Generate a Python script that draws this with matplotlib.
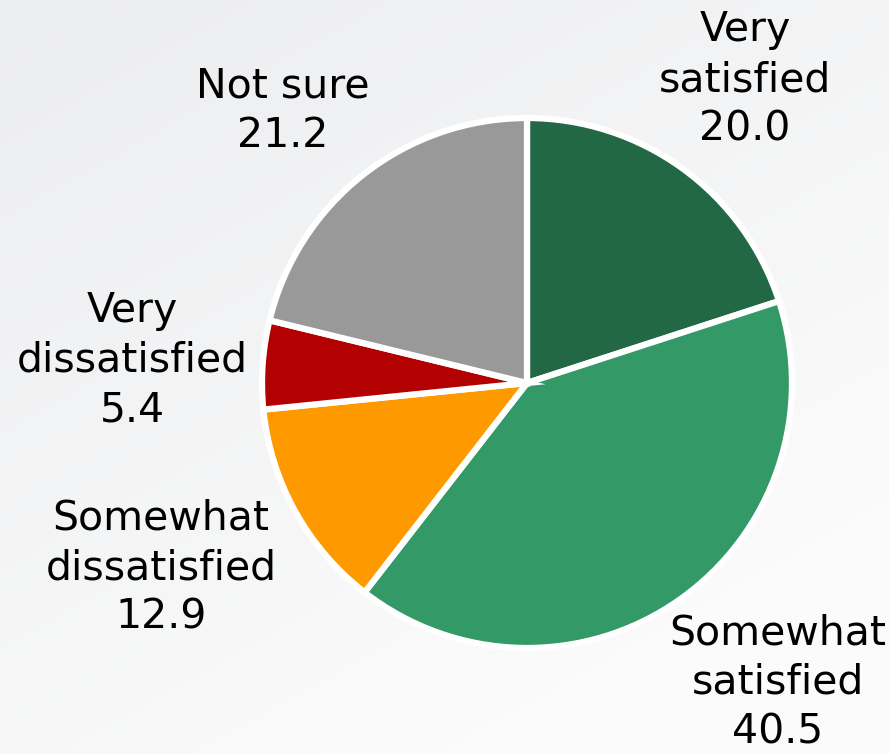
import numpy as np
import matplotlib
matplotlib.use('Agg')
import matplotlib.pyplot as plt

labels = ['Very\nsatisfied', 'Somewhat\nsatisfied', 'Somewhat\ndissatisfied',
          'Very\ndissatisfied', 'Not sure']
values = [20.0, 40.5, 12.9, 5.4, 21.2]
colors = ['#226844', '#339966', '#FF9900', '#B30000', '#999999']
# label centres in pixel coords (x, y from top)
label_pos = [(745, 80), (778, 683), (161, 568), (132, 361), (283, 111)]

W, H = 889, 754
fig = plt.figure(figsize=(W / 100, H / 100), dpi=100)

# soft light-grey background, lighter toward the bottom right
bg = fig.add_axes([0, 0, 1, 1])
yy, xx = np.mgrid[0:1:200j, 0:1:200j]
t = np.clip((xx * 0.6 + yy * 0.9) / 1.2, 0, 1)
top = np.array([236, 237, 239]) / 255
bot = np.array([251, 251, 251]) / 255
img = top[None, None, :] * (1 - t[..., None]) + bot[None, None, :] * t[..., None]
bg.imshow(img, extent=[0, 1, 0, 1], aspect='auto', origin='upper')
bg.axis('off')

ax = fig.add_axes([0, 0, 1, 1])
ax.patch.set_alpha(0)
ax.pie(values, colors=colors, startangle=90, counterclock=False,
       center=(527, H - 383), radius=265, frame=True,
       wedgeprops=dict(edgecolor='white', linewidth=4.5))
ax.set_xlim(0, W)
ax.set_ylim(0, H)
ax.set_aspect('equal')
ax.axis('off')

for lab, v, (x, y) in zip(labels, values, label_pos):
    ax.text(x, H - y, f'{lab}\n{v:.1f}', ha='center', va='center',
            fontsize=29.5, linespacing=1.32, color='black', family='DejaVu Sans')

fig.savefig('out.png', dpi=100)
